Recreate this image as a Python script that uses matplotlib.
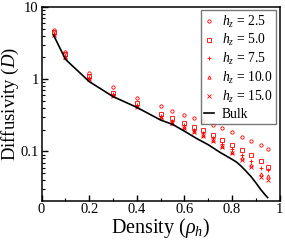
import numpy as np
import matplotlib
matplotlib.use("Agg")
import matplotlib.pyplot as plt
from matplotlib.ticker import FixedLocator, LogLocator, NullFormatter

plt.rcParams['font.family'] = ['Liberation Serif', 'DejaVu Serif']
plt.rcParams['mathtext.fontset'] = 'custom'
plt.rcParams['mathtext.rm'] = 'Liberation Serif'
plt.rcParams['mathtext.it'] = 'Liberation Serif:italic'

# densities of the confined systems
rho = [0.05, 0.1, 0.2, 0.3, 0.4, 0.5, 0.55, 0.6, 0.64, 0.68, 0.72,
       0.76, 0.8, 0.84, 0.88, 0.92, 0.95]

d_hz25 = [4.77, 2.39, 1.20, 0.78, 0.556, 0.427, 0.364, 0.321, 0.294, 0.265,
          0.233, 0.210, 0.185, 0.161, 0.141, 0.121, 0.108]
d_hz50 = [4.41, 2.19, 1.11, 0.65, 0.465, 0.331, 0.289, 0.251, 0.221, 0.195,
          0.168, 0.145, 0.124, 0.105, 0.090, 0.073, 0.061]
d_hz75 = [4.20, 2.09, 1.04, 0.615, 0.434, 0.310, 0.261, 0.230, 0.199, 0.178,
          0.152, 0.128, 0.109, 0.090, 0.0745, 0.059, 0.056]
d_hz100 = [4.14, 2.05, 1.02, 0.595, 0.420, 0.300, 0.251, 0.220, 0.190, 0.168,
           0.143, 0.118, 0.099, 0.081, 0.0655, 0.0488, 0.0452]
d_hz150 = [4.07, 2.02, 1.00, 0.585, 0.410, 0.297, 0.245, 0.213, 0.184, 0.162,
           0.139, 0.114, 0.096, 0.077, 0.0615, 0.0448, 0.0398]

# bulk curve
rho_bulk = [0.05, 0.1, 0.2, 0.3, 0.4, 0.5, 0.55, 0.6, 0.65, 0.7, 0.75,
            0.8, 0.82, 0.84, 0.86, 0.88, 0.9, 0.92, 0.94, 0.95]
d_bulk = [4.07, 1.88, 0.925, 0.574, 0.407, 0.272, 0.237, 0.191, 0.152, 0.124,
          0.097, 0.078, 0.071, 0.062, 0.053, 0.045, 0.037, 0.030, 0.025, 0.023]

series = [
    (d_hz25, 'o', '2.5'),
    (d_hz50, 's', '5.0'),
    (d_hz75, '+', '7.5'),
    (d_hz100, '^', '10.0'),
    (d_hz150, 'x', '15.0'),
]

fig = plt.figure(figsize=(2.85, 2.41), dpi=100)
ax = fig.add_axes([0.146, 0.168, 0.835, 0.804])

for vals, mk, lab in series:
    ax.plot(rho, vals, linestyle='none', marker=mk, markersize=2.4,
            markerfacecolor='none', markeredgecolor='red', markeredgewidth=0.6,
            label=r'$h_z$ = ' + lab)

ax.plot(rho_bulk, d_bulk, color='black', linewidth=1.2, label='Bulk')

ax.set_yscale('log')
ax.set_xlim(0, 1)
ax.set_ylim(0.021, 10)

ax.set_xticks([0, 0.2, 0.4, 0.6, 0.8, 1.0])
ax.set_xticklabels(['0', '0.2', '0.4', '0.6', '0.8', '1'])
ax.xaxis.set_minor_locator(FixedLocator([0.1, 0.3, 0.5, 0.7, 0.9]))
ax.set_yticks([0.1, 1, 10])
ax.set_yticklabels(['0.1', '1', '10'])
ax.yaxis.set_minor_locator(LogLocator(base=10, subs=np.arange(2, 10)))
ax.yaxis.set_minor_formatter(NullFormatter())

ax.tick_params(which='both', direction='in', top=False, right=False, labelsize=10.5, pad=2)
ax.tick_params(which='major', length=4, width=1)
ax.tick_params(which='minor', length=2.5, width=0.8)
for sp in ax.spines.values():
    sp.set_linewidth(1.1)

ax.set_xlabel(r'Density ($\rho_h$)', fontsize=14.5, labelpad=0)
ax.set_ylabel(r'Diffusivity ($D$)', fontsize=13.5)
ax.yaxis.set_label_coords(-0.085, 0.5)

leg = ax.legend(loc='upper right', fontsize=9.8, frameon=True, fancybox=False,
                handlelength=0.7, handletextpad=0.6, labelspacing=0.2,
                borderpad=0.25, borderaxespad=0.25, markerscale=1.0)
leg.get_frame().set_edgecolor('#555555')
leg.get_frame().set_linewidth(1.0)

fig.savefig('out.png', dpi=100)
